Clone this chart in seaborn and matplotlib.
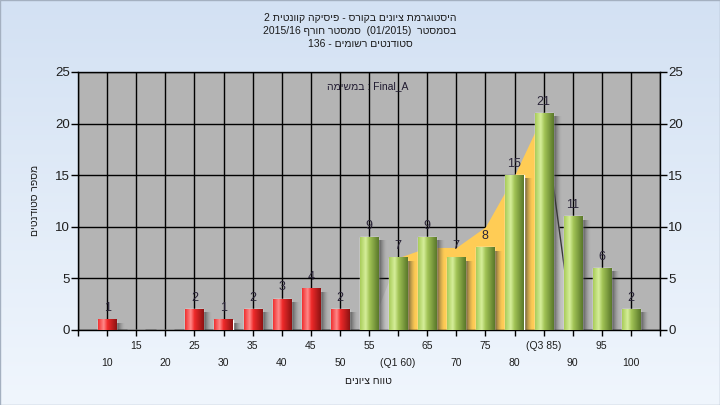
import numpy as np
import pandas as pd
import seaborn as sns
import matplotlib.pyplot as plt
from matplotlib.colors import LinearSegmentedColormap
from matplotlib.patches import Rectangle

# data
grades = ['10', '15', '20', '25', '30', '35', '40', '45', '50', '55',
          '60', '65', '70', '75', '80', '85', '90', '95', '100']
counts = [1, 0, 0, 2, 1, 2, 3, 4, 2, 9, 7, 9, 7, 8, 15, 21, 11, 6, 2]
tick_labels = ['10', '15', '20', '25', '30', '35', '40', '45', '50', '55',
               '(Q1 60)', '65', '70', '75', '80', '(Q3 85)', '90', '95', '100']
groups = ['fail'] * 9 + ['pass'] * 10

# shaded band between the quartiles
band_grades = ['55', '60', '65', '70', '75', '80', '85', '90']
band_values = [0, 7, 8, 8, 10, 15, 21, 0]

title_lines = ['היסטוגרמת ציונים בקורס - פיסיקה קוונטית 2',
               'בסמסטר  (01/2015)  סמסטר חורף 2015/16',
               'סטודנטים רשומים - 136']
series_text = 'Final_A : במשימה'
x_title = 'טווח ציונים'
y_title = 'מספר סטודנטים'


def heb(s):
    # matplotlib has no bidi support: put RTL text into visual order
    out = []
    for tok in s.split(' ')[::-1]:
        if any(0x0590 <= ord(c) < 0x0600 for c in tok):
            tok = tok[::-1].translate(str.maketrans('()', ')('))
        out.append(tok)
    return ' '.join(out)


sns.set_style('white')
plt.rcParams['font.family'] = ['Liberation Sans', 'DejaVu Sans']

fig = plt.figure(figsize=(7.2, 4.05), dpi=100)

# background gradient
bg = fig.add_axes([0, 0, 1, 1], zorder=-10)
bg_cmap = LinearSegmentedColormap.from_list('bg', ['#d3e1f3', '#f0f6fd'])
bg.imshow(np.linspace(0, 1, 256)[:, None], cmap=bg_cmap, aspect='auto',
          extent=[0, 1, 0, 1])
bg.set_axis_off()
fig.add_artist(Rectangle((0, 0), 1, 1, transform=fig.transFigure, fill=False,
                         edgecolor='#a4b0c0', lw=1))

ax = fig.add_axes([78 / 720, 75 / 405, 582 / 720, 258 / 405])
ax.set_facecolor('#b4b4b4')

df = pd.DataFrame({'grade': grades, 'count': counts, 'group': groups})
sns.barplot(data=df, x='grade', y='count', hue='group', order=grades,
            palette={'fail': '#f02828', 'pass': '#9cc050'}, dodge=False,
            width=0.62, legend=False, saturation=1, ax=ax, zorder=3)

# quartile band
pos = {g: i for i, g in enumerate(grades)}
bx = np.array([pos[g] for g in band_grades])
bv = np.array(band_values)
ax.fill_between(bx[:2], 0, bv[:2], color='#c2c2c2', lw=0, zorder=2)
ax.fill_between(bx[1:-1], 0, bv[1:-1], color='#ffcc55', lw=0, zorder=2)
ax.fill_between(bx[-2:], 0, bv[-2:], color='#c2c2c2', lw=0, zorder=2)
ax.plot(bx[-2:], bv[-2:], color='#3a3a3a', lw=1, zorder=2.1)

# cylinder shading and drop shadows
red_cmap = LinearSegmentedColormap.from_list(
    'r', [(0, '#f03030'), (0.3, '#ff8a8a'), (0.5, '#f02a2a'), (1, '#8e1212')])
green_cmap = LinearSegmentedColormap.from_list(
    'g', [(0, '#a9cc5a'), (0.3, '#d6ee9a'), (0.5, '#a2c456'), (1, '#5a782a')])
sh = np.zeros((1, 64, 4))
sh[..., :3] = 0.2
sh[..., 3] = np.linspace(0.9, 0, 64) ** 1.6
for p, g in zip(ax.patches, groups):
    h = p.get_height()
    if h <= 0:
        continue
    x0, w = p.get_x(), p.get_width()
    cmap = red_cmap if g == 'fail' else green_cmap
    ax.imshow(np.linspace(0, 1, 64)[None, :], cmap=cmap, aspect='auto',
              extent=[x0, x0 + w, 0, h], zorder=3.5)
    ax.imshow(sh, aspect='auto', extent=[x0 + w, x0 + w + 0.3, -0.3, h - 0.35],
              zorder=2.9)
    ax.annotate(str(int(h)), (x0 + w / 2, h), xytext=(0, 4),
                textcoords='offset points', ha='center', va='bottom',
                fontsize=9, color='#2a2438', zorder=5)

ax.set_xlim(-1, len(grades))
ax.set_ylim(0, 25)
ax.set_xlabel('')
ax.set_ylabel('')

# y axis on both sides
ax.set_yticks(range(0, 26, 5))
ax.tick_params(axis='y', left=True, right=True, labelleft=True, labelright=True,
               direction='out', length=5, width=1, color='black',
               labelsize=9.5, labelcolor='#1e1e1e', pad=1)

# x labels in two staggered rows
odd = list(range(1, len(grades), 2))
even = [-1] + list(range(0, len(grades), 2)) + [len(grades)]
ax.set_xticks(odd, [tick_labels[i] for i in odd])
ax.set_xticks(even, [''] + [tick_labels[i] for i in even[1:-1]] + [''], minor=True)
ax.tick_params(axis='x', which='both', bottom=True, direction='out', length=4,
               width=1, color='black', labelsize=7.5, labelcolor='#1e1e1e')
ax.tick_params(axis='x', which='major', pad=4)
ax.tick_params(axis='x', which='minor', pad=16.5)

ax.grid(True, which='both', axis='x', color='black', lw=1)
ax.grid(True, which='major', axis='y', color='black', lw=1)
ax.set_axisbelow(True)
for s in ax.spines.values():
    s.set_visible(True)
    s.set_color('black')
    s.set_linewidth(1)

ax.text(0.498, 0.945, heb(series_text), transform=ax.transAxes, ha='center',
        va='center', fontsize=7.5, color='#201a30', zorder=6)

for k, line in enumerate(title_lines):
    fig.text(0.5, 1 - (18 + 13 * k) / 405, heb(line), ha='center', va='center',
             fontsize=7.5, color='#1a1a1a')
fig.text(368 / 720, 1 - 381 / 405, heb(x_title), ha='center', va='center',
         fontsize=7.5, color='#1a1a1a')
fig.text(35 / 720, 1 - 200 / 405, heb(y_title), ha='center', va='center',
         rotation=90, fontsize=7.5, color='#1a1a1a')

fig.savefig('out.png', dpi=100)
